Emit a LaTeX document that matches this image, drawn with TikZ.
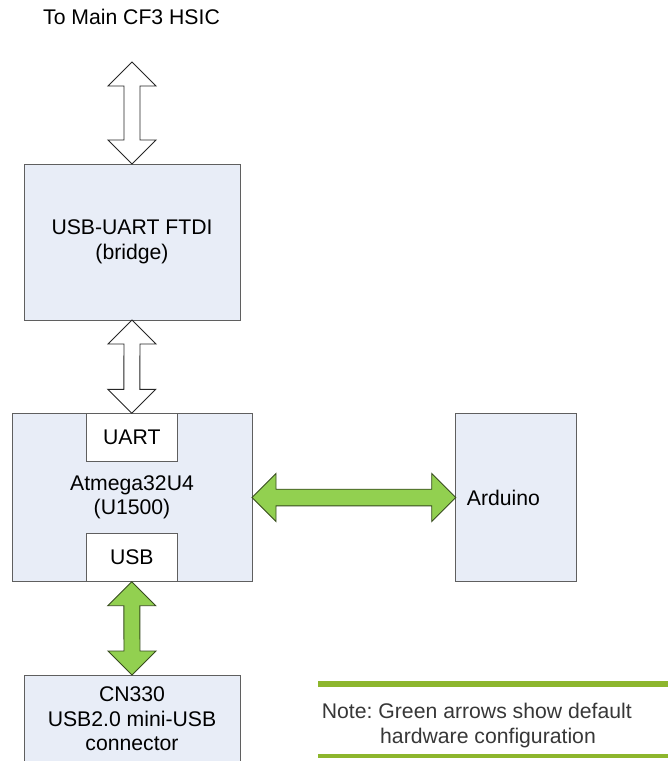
\documentclass[tikz,border=0pt]{standalone}
\usepackage{fontspec}
\setmainfont{Liberation Sans}
\usetikzlibrary{calc}
\frenchspacing
\definecolor{boxfill}{RGB}{232,237,247}
\definecolor{boxline}{RGB}{95,95,95}
\definecolor{garrow}{RGB}{146,208,80}
\definecolor{garrowline}{RGB}{55,75,30}
\definecolor{noteline}{RGB}{141,182,45}
\definecolor{notetext}{RGB}{55,55,55}
\newcommand\vdblarrow[3]{%
  \draw[#1] (#2) -- ($(#2)+(24,24)$) -- ($(#2)+(8,24)$) -- ($(#3)+(8,-24)$) -- ($(#3)+(24,-24)$) -- (#3)
    -- ($(#3)+(-24,-24)$) -- ($(#3)+(-8,-24)$) -- ($(#2)+(-8,24)$) -- ($(#2)+(-24,24)$) -- cycle;}
\newcommand\hdblarrow[3]{%
  \draw[#1] (#2) -- ($(#2)+(24,-24)$) -- ($(#2)+(24,-8.3)$) -- ($(#3)+(-24,-8.3)$) -- ($(#3)+(-24,-24)$) -- (#3)
    -- ($(#3)+(-24,24)$) -- ($(#3)+(-24,8.3)$) -- ($(#2)+(24,8.3)$) -- ($(#2)+(24,24)$) -- cycle;}
\tikzset{
  txt/.style={font=\fontsize{21.2}{24.5}\selectfont},
  box/.style={txt, draw=boxline, fill=boxfill, line width=0.9pt, inner sep=0pt, outer sep=0pt, align=center},
  subbox/.style={box, fill=white},
  whitearr/.style={draw=black!85, fill=white, line width=0.9pt},
  greenarr/.style={draw=garrowline, fill=garrow, line width=0.9pt},
  notetxt/.style={txt, text=notetext, inner sep=0pt, anchor=base west},
  rule/.style={draw=noteline}
}
\begin{document}
\begin{tikzpicture}[x=1pt,y=-1pt]
\useasboundingbox (0,0) rectangle (668,761);
\node[txt, inner sep=0pt, anchor=base] (hsiclbl) at (131.5,24.3) {To Main CF3 HSIC};
\coordinate (hsic) at (132,62);

\node[box, minimum width=216, minimum height=156] (ftdi) at (132,242) {USB-UART FTDI\\(bridge)};
\node[box, minimum width=240, minimum height=168.4] (atm) at (132,497.5) {Atmega32U4\\(U1500)};
\node[subbox, minimum width=91, minimum height=48.4] (uart) at (131.8,437.5) {UART};
\node[subbox, minimum width=91, minimum height=48.4] (usb) at (131.8,557.5) {USB};
\node[box, minimum width=120.3, minimum height=168.4] (ard) at (515.85,497.5) {};
\node[txt, inner sep=0pt, anchor=west] (ardlbl) at (466.7,497.5) {Arduino};
\node[box, minimum width=216, minimum height=88] (cn) at (132,719) {CN330\\USB2.0 mini-USB\\connector};

\vdblarrow{whitearr}{hsic}{ftdi.north}
\vdblarrow{whitearr}{ftdi.south}{uart.north}
\vdblarrow{greenarr}{usb.south}{cn.north}
\hdblarrow{greenarr}{atm.east}{ard.west}

\coordinate (r1a) at (318,684); \coordinate (r1b) at (668,684);
\coordinate (r2a) at (318,756); \coordinate (r2b) at (668,756);
\draw[rule, line width=6] (r1a) -- (r1b);
\draw[rule, line width=3.5] (r2a) -- (r2b);
\node[notetxt] (note1) at (321.7,718.3) {Note: Green arrows show default};
\node[notetxt] (note2) at (380,743.3) {hardware configuration};
\end{tikzpicture}
\end{document}
